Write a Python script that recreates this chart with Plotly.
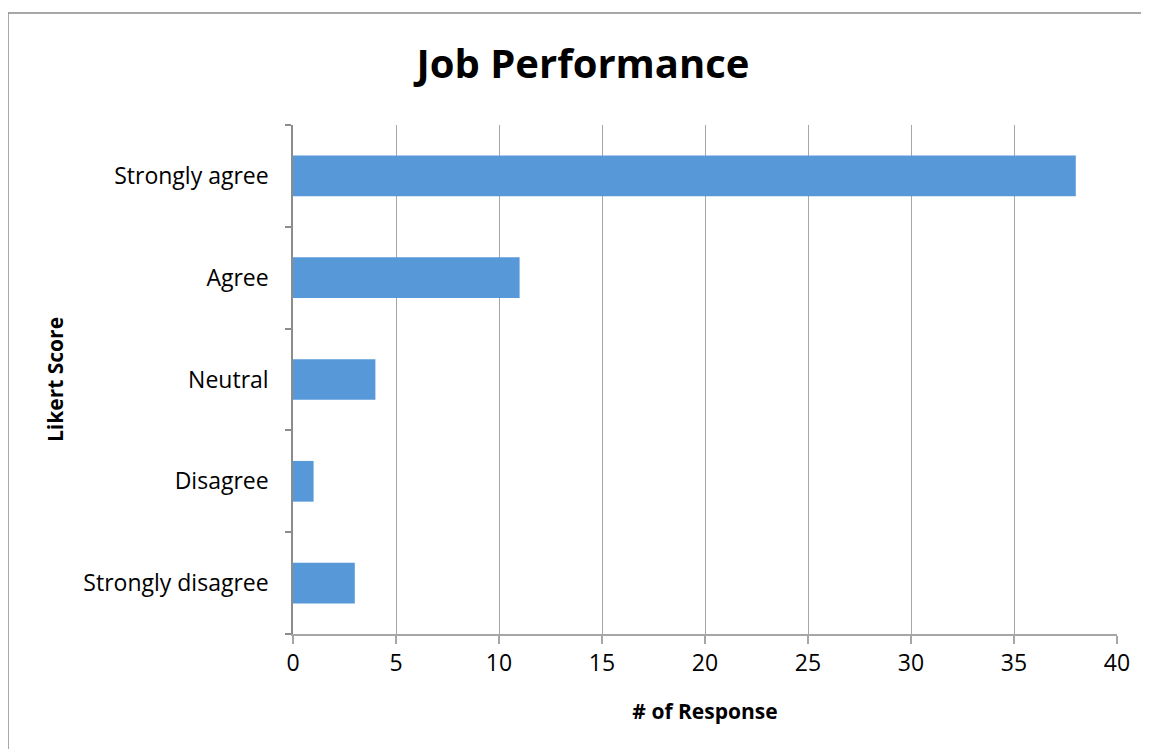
import plotly.graph_objects as go

categories = ["Strongly disagree", "Disagree", "Neutral", "Agree", "Strongly agree"]
responses = [3, 1, 4, 11, 38]
x_ticks = [0, 5, 10, 15, 20, 25, 30, 35, 40]

title_text = "Job Performance"
x_title = "# of Response"
y_title = "Likert Score"

OFF = 8  # default page body margin
W, H = 1149 - OFF, 749 - OFF
L = 293 - OFF
T = 125 - OFF
R = W - (1117 - OFF)
B = H - (634 - OFF)
pw, ph = W - L - R, H - T - B

def px_x(p):
    return (p - OFF - L) / pw

def px_y(p):
    return (H - B - (p - OFF)) / ph

font_family = "Open Sans, Noto Sans, sans-serif"

fig = go.Figure()
fig.add_trace(go.Bar(
    x=responses, y=categories, orientation="h",
    width=0.4,
    marker=dict(color="#5798d8", line=dict(width=0)),
    hoverinfo="x+y",
))

fig.update_layout(
    width=W, height=H,
    margin=dict(l=L, r=R, t=T, b=B),
    paper_bgcolor="white", plot_bgcolor="white",
    showlegend=False,
    font=dict(family=font_family, size=23, color="#000000"),
    title=dict(
        text="<b>" + title_text + "</b>",
        font=dict(size=40, family=font_family, color="#000000"),
        xref="paper", x=px_x(583), xanchor="center",
        yref="container", y=1 - (64 - OFF) / H, yanchor="middle",
    ),
    xaxis=dict(
        range=[0, 40], tickvals=x_ticks, ticktext=[str(v) for v in x_ticks],
        showgrid=True, gridcolor="#a6a6a6", gridwidth=1,
        showline=True, linecolor="#a6a6a6", linewidth=1.5,
        ticks="outside", ticklen=8, tickcolor="#a6a6a6", tickwidth=1.5,
        zeroline=False,
        tickfont=dict(size=23),
        title=dict(text="<b>" + x_title + "</b>", font=dict(size=21), standoff=27),
        fixedrange=True,
    ),
    yaxis=dict(
        categoryorder="array", categoryarray=categories,
        showgrid=False,
        showline=True, linecolor="#8c8c8c", linewidth=1.5,
        ticks="outside", tickson="boundaries", ticklen=6, tickcolor="#8c8c8c", tickwidth=1.5,
        ticklabelstandoff=18,
        tickfont=dict(size=23),
        title=dict(text="<b>" + y_title + "</b>", font=dict(size=21), standoff=14),
        fixedrange=True,
    ),
    shapes=[dict(
        type="rect", xref="paper", yref="paper",
        x0=px_x(8), x1=px_x(1147), y0=px_y(800), y1=px_y(13),
        line=dict(color="#8c8c8c", width=1.5), fillcolor="rgba(0,0,0,0)", layer="below",
    )],
)

fig.write_html("out.html")
